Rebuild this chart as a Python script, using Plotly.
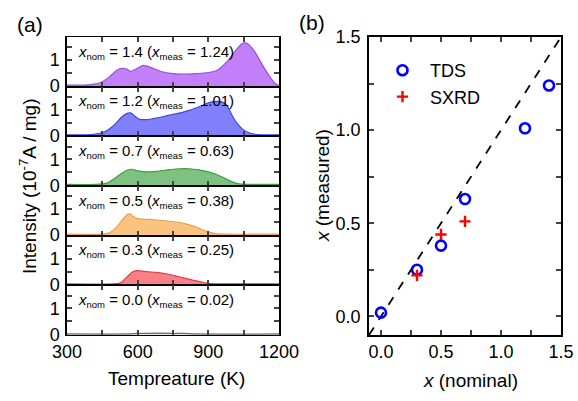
import plotly.graph_objects as go

# ---------------- data ----------------
# Panel (a): TDS spectra (temperature K, intensity 1e-7 A/mg)
t_14 = [300, 360, 400, 440, 480, 510, 535, 555, 570, 590, 625, 660, 700, 750, 800, 850, 900, 940, 980, 1010, 1040, 1055, 1070, 1090, 1115, 1140, 1165, 1185, 1200]
i_14 = [0.03, 0.03, 0.05, 0.12, 0.35, 0.60, 0.68, 0.64, 0.56, 0.64, 0.80, 0.70, 0.56, 0.48, 0.46, 0.48, 0.52, 0.62, 0.95, 1.30, 1.62, 1.67, 1.62, 1.42, 1.05, 0.65, 0.30, 0.08, 0.02]

t_12 = [300, 380, 420, 460, 500, 530, 555, 570, 585, 605, 640, 700, 760, 820, 870, 910, 940, 960, 980, 1000, 1020, 1045, 1070, 1100, 1140, 1200]
i_12 = [0.03, 0.03, 0.06, 0.15, 0.40, 0.70, 0.86, 0.88, 0.78, 0.64, 0.62, 0.72, 0.84, 0.98, 1.15, 1.30, 1.33, 1.30, 1.15, 0.80, 0.50, 0.25, 0.12, 0.05, 0.03, 0.03]

t_07 = [300, 420, 470, 500, 530, 560, 575, 600, 640, 680, 730, 780, 820, 860, 900, 940, 980, 1010, 1040, 1080, 1200]
i_07 = [0.03, 0.03, 0.08, 0.25, 0.45, 0.60, 0.62, 0.56, 0.52, 0.54, 0.60, 0.64, 0.64, 0.60, 0.52, 0.40, 0.22, 0.10, 0.04, 0.03, 0.03]

t_05 = [300, 440, 480, 510, 535, 555, 568, 580, 600, 650, 700, 750, 800, 840, 870, 900, 930, 960, 1200]
i_05 = [0.03, 0.03, 0.08, 0.30, 0.58, 0.78, 0.82, 0.72, 0.63, 0.60, 0.56, 0.52, 0.44, 0.33, 0.22, 0.12, 0.05, 0.03, 0.03]

t_03 = [300, 500, 530, 555, 580, 600, 640, 680, 720, 760, 800, 840, 880, 910, 950, 1200]
i_03 = [0.03, 0.03, 0.08, 0.30, 0.50, 0.54, 0.50, 0.47, 0.42, 0.34, 0.25, 0.16, 0.08, 0.04, 0.03, 0.03]

t_00 = [300, 560, 600, 700, 800, 850, 1200]
i_00 = [0.01, 0.01, 0.03, 0.04, 0.03, 0.01, 0.01]

x_nom_labels = ["1.4", "1.2", "0.7", "0.5", "0.3", "0.0"]
x_meas_labels = ["1.24", "1.01", "0.63", "0.38", "0.25", "0.02"]

# Panel (b)
tds_nominal = [0.0, 0.3, 0.5, 0.7, 1.2, 1.4]
tds_measured = [0.02, 0.25, 0.38, 0.63, 1.01, 1.24]
sxrd_nominal = [0.3, 0.5, 0.7]
sxrd_measured = [0.22, 0.44, 0.51]
ideal_line = [-0.1, 1.5]

# ---------------- styling / layout ----------------
W, H = 578, 401
FONT = "Liberation Sans, Arial, sans-serif"
fills = ["rgb(196,128,250)", "rgb(128,128,250)", "rgb(128,192,128)",
         "rgb(250,196,128)", "rgb(250,128,136)", "rgb(150,150,150)"]
lines = ["rgb(150,80,210)", "rgb(70,70,220)", "rgb(60,160,60)",
         "rgb(235,160,80)", "rgb(225,60,70)", "rgb(110,110,110)"]
curves = [(t_14, i_14), (t_12, i_12), (t_07, i_07), (t_05, i_05), (t_03, i_03), (t_00, i_00)]

ax_left, ax_right = 67, 279
top, bottom = 37, 335
h = (bottom - top) / 6.0
bx_left, bx_right = 369, 561


def px(x):
    return x / W


def py(y):
    return 1 - y / H


def sub(s):
    return f'<sub><span style="font-size:9.5px">{s}</span></sub>'


fig = go.Figure()
layout = dict(template="none", width=W, height=H,
              margin=dict(l=0, r=0, t=0, b=0, pad=0, autoexpand=False),
              paper_bgcolor="white", plot_bgcolor="white",
              font=dict(family=FONT, size=18, color="black"),
              showlegend=True)
annotations = []

for i, ((tt, ii), fc, lc) in enumerate(zip(curves, fills, lines)):
    n = i + 1
    xa = "x" if n == 1 else f"x{n}"
    ya = "y" if n == 1 else f"y{n}"
    fig.add_trace(go.Scatter(x=tt, y=ii, xaxis=xa, yaxis=ya, mode="lines",
                             line=dict(color=lc, width=1.2, shape="spline", smoothing=0.7),
                             fill="tozeroy", fillcolor=fc, showlegend=False,
                             hoverinfo="skip"))
    y0 = top + i * h
    y1 = top + (i + 1) * h
    layout["xaxis" if n == 1 else f"xaxis{n}"] = dict(
        domain=[px(ax_left), px(ax_right)], anchor=ya, range=[300, 1200],
        tickmode="array", tickvals=[300, 600, 900, 1200],
        showticklabels=(n == 6), ticks="inside", ticklen=5, tickwidth=1.5,
        minor=dict(tickvals=[450, 750, 1050], ticks="inside", ticklen=5, tickwidth=1.5),
        showline=True, linecolor="black", linewidth=1, mirror="allticks",
        showgrid=False, zeroline=False, tickfont=dict(size=18), automargin=False)
    layout["yaxis" if n == 1 else f"yaxis{n}"] = dict(
        domain=[py(y1), py(y0)], anchor=xa, range=[-0.03, 1.9],
        tickmode="array", tickvals=[0, 1], ticktext=["0", "1"],
        ticks="inside", ticklen=5, tickwidth=1.5,
        minor=dict(tickvals=[0.5, 1.5], ticks="inside", ticklen=5, tickwidth=1.5),
        showline=True, linecolor="black", linewidth=1.5, mirror="allticks",
        showgrid=False, zeroline=False, tickfont=dict(size=18), ticklabelstandoff=2,
        automargin=False)
    annotations.append(dict(
        xref="paper", yref="paper", x=px(76), y=py(y0 + 15), xanchor="left", yanchor="middle",
        align="left", showarrow=False, font=dict(size=15),
        text=f"<i>x</i>{sub('nom')} = {x_nom_labels[i]} (<i>x</i>{sub('meas')} = {x_meas_labels[i]})"))

# Panel (b)
fig.add_trace(go.Scatter(x=ideal_line, y=ideal_line, xaxis="x7", yaxis="y7", mode="lines",
                         line=dict(color="black", width=1.8, dash="dash"), showlegend=False,
                         hoverinfo="skip"))
fig.add_trace(go.Scatter(x=tds_nominal, y=tds_measured, xaxis="x7", yaxis="y7", mode="markers",
                         name="TDS",
                         marker=dict(symbol="circle-open", size=10, color="rgb(0,0,255)",
                                     line=dict(width=2.6, color="rgb(0,0,255)"))))
fig.add_trace(go.Scatter(x=sxrd_nominal, y=sxrd_measured, xaxis="x7", yaxis="y7", mode="markers",
                         name="SXRD",
                         marker=dict(symbol="cross-thin-open", size=8, color="rgb(255,0,0)",
                                     line=dict(width=2.4, color="rgb(255,0,0)"))))

layout["xaxis7"] = dict(
    domain=[px(bx_left), px(bx_right)], anchor="y7", range=[-0.1, 1.5],
    tickmode="array", tickvals=[0, 0.5, 1.0, 1.5], ticktext=["0.0", "0.5", "1.0", "1.5"],
    ticks="inside", ticklen=5, tickwidth=1.5,
    minor=dict(tickvals=[0.25, 0.75, 1.25], ticks="inside", ticklen=5, tickwidth=1.5),
    showline=True, linecolor="black", linewidth=1.5, mirror="allticks",
    showgrid=False, zeroline=False, tickfont=dict(size=18), automargin=False)
layout["yaxis7"] = dict(
    domain=[py(bottom), py(top)], anchor="x7", range=[-0.1, 1.5],
    tickmode="array", tickvals=[0, 0.5, 1.0, 1.5], ticktext=["0.0", "0.5", "1.0", "1.5"],
    ticks="inside", ticklen=5, tickwidth=1.5,
    minor=dict(tickvals=[0.25, 0.75, 1.25], ticks="inside", ticklen=5, tickwidth=1.5),
    showline=True, linecolor="black", linewidth=1.5, mirror="allticks",
    showgrid=False, zeroline=False, tickfont=dict(size=18), ticklabelstandoff=3,
    automargin=False)

layout["legend"] = dict(x=px(375), y=py(52), xanchor="left", yanchor="top",
                        bgcolor="rgba(0,0,0,0)", font=dict(size=18), itemwidth=45,
                        tracegroupgap=0)

# Titles and panel labels
annotations += [
    dict(xref="paper", yref="paper", x=px(30), y=py(24), text="(a)", showarrow=False,
         font=dict(size=21), xanchor="center", yanchor="middle"),
    dict(xref="paper", yref="paper", x=px(312), y=py(22), text="(b)", showarrow=False,
         font=dict(size=21), xanchor="center", yanchor="middle"),
    dict(xref="paper", yref="paper", x=px(177), y=py(378), text="Tempreature (K)", showarrow=False,
         font=dict(size=19), xanchor="center", yanchor="middle"),
    dict(xref="paper", yref="paper", x=px(28), y=py(186), text="Intensity (10<sup>-7</sup>A / mg)",
         showarrow=False, textangle=-90, font=dict(size=19), xanchor="center", yanchor="middle"),
    dict(xref="paper", yref="paper", x=px(470), y=py(380), text="<i>x</i> (nominal)", showarrow=False,
         font=dict(size=19), xanchor="center", yanchor="middle"),
    dict(xref="paper", yref="paper", x=px(322), y=py(186), text="<i>x</i> (measured)", showarrow=False,
         textangle=-90, font=dict(size=19), xanchor="center", yanchor="middle"),
]
layout["annotations"] = annotations

fig.update_layout(**layout)
fig.write_html("out.html", config={"displayModeBar": False},
               post_script="document.body.style.margin='0';")
